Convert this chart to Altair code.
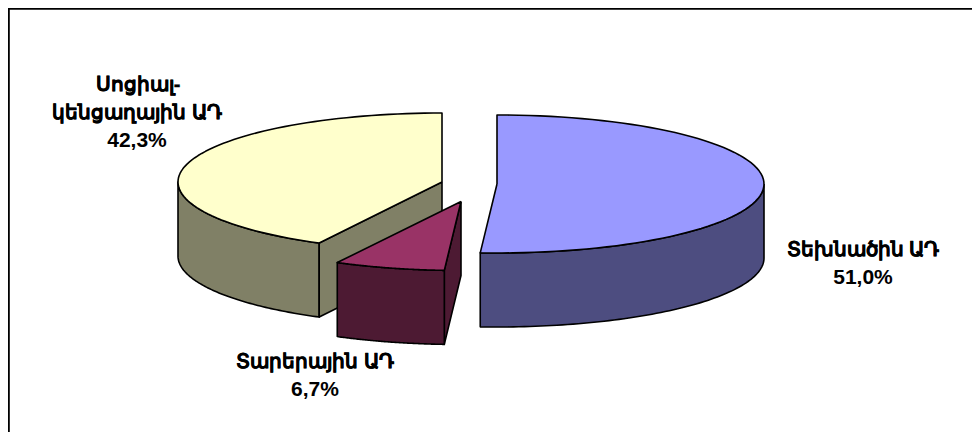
import numpy as np
import pandas as pd
import altair as alt

# Values
names = ["Տեխնածին ԱԴ", "Տարերային ԱԴ", "Սոցիալ-կենցաղային ԱԴ"]
shares = [51.0, 6.7, 42.3]

# Slice appearance and placement of the exploded slices on the picture grid
top_colors = ["#9999FF", "#993366", "#FFFFCC"]
side_colors = ["#4D4D80", "#4D1A33", "#808066"]
centers = [(497.0, 184.0), (461.0, 201.5), (442.0, 182.0)]
semi_x = [267.0, 266.0, 264.0]
semi_y = [69.0, 69.0, 69.0]
depth = 74.0

armenian_lines = [
    ("Սոցիալ-", 138, 85),
    ("կենցաղային ԱԴ", 137, 113),
    ("Տեխնածին ԱԴ", 863, 250),
    ("Տարերային ԱԴ", 315, 362),
]
number_lines = [
    ("42,3%", 137, 141),
    ("51,0%", 863, 278),
    ("6,7%", 315, 390),
]

X0, X1, Y0, Y1 = 8.0, 972.0, 8.0, 432.0
xs = alt.Scale(domain=[X0, X1], nice=False, zero=False)
ys = alt.Scale(domain=[Y1, Y0], nice=False, zero=False)


def rim(i, a0, a1, dy=0.0, n=80):
    """Points on the slice's ellipse between two angles (degrees clockwise from top)."""
    t = np.radians(np.linspace(a0, a1, n))
    cx, cy = centers[i]
    return list(zip(cx + semi_x[i] * np.sin(t), cy - semi_y[i] * np.cos(t) + dy))


def poly(points, fill):
    pts = list(points) + [points[0]]
    df = pd.DataFrame(pts, columns=["x", "y"])
    df["k"] = range(len(df))
    return (
        alt.Chart(df)
        .mark_line(fill=fill, stroke="black", strokeWidth=1.6, strokeJoin="round", clip=False)
        .encode(
            x=alt.X("x:Q", scale=xs, axis=None),
            y=alt.Y("y:Q", scale=ys, axis=None),
            order="k:Q",
        )
    )


def text_layer(rows, font, size, thicken=0.0):
    kw = dict(stroke="black", strokeWidth=thicken) if thicken else {}
    return (
        alt.Chart(pd.DataFrame(rows, columns=["t", "x", "y"]))
        .mark_text(font=font, fontWeight="bold", fontSize=size, color="#000000", align="center", baseline="middle", **kw)
        .encode(
            x=alt.X("x:Q", scale=xs, axis=None),
            y=alt.Y("y:Q", scale=ys, axis=None),
            text="t:N",
        )
    )


# Frame: only the top and left edges show in the picture
frame_top = (
    alt.Chart(pd.DataFrame({"x": [X0], "x2": [X1], "y": [Y0 + 0.9]}))
    .mark_rule(color="black", strokeWidth=1.8)
    .encode(
        x=alt.X("x:Q", scale=xs, axis=None),
        x2="x2:Q",
        y=alt.Y("y:Q", scale=ys, axis=None),
    )
)
frame_left = (
    alt.Chart(pd.DataFrame({"x": [X0 + 0.9], "y": [Y0], "y2": [Y1]}))
    .mark_rule(color="black", strokeWidth=1.8)
    .encode(
        x=alt.X("x:Q", scale=xs, axis=None),
        y=alt.Y("y:Q", scale=ys, axis=None),
        y2="y2:Q",
    )
)

# Slice angles come from the shares: first clockwise from 12 o'clock
a_blue0, a_blue1 = 0.0, shares[0] * 3.6
a_purple0, a_purple1 = a_blue1, a_blue1 + shares[1] * 3.6
a_yellow0, a_yellow1 = a_purple1, 360.0

layers = [frame_top, frame_left]

# Social slice (yellow): side wall, cut face, top
c = centers[2]
a = rim(2, a_yellow0, 270)
layers.append(poly(a + [(x, y + depth) for x, y in reversed(a)], side_colors[2]))
p = rim(2, a_yellow0, a_yellow0, n=1)[0]
layers.append(poly([c, p, (p[0], p[1] + depth), (c[0], c[1] + depth)], side_colors[2]))
layers.append(poly([c] + rim(2, a_yellow0, a_yellow1), top_colors[2]))

# Natural slice (purple): right cut face, front wall, top
c = centers[1]
p = rim(1, a_purple0, a_purple0, n=1)[0]
layers.append(poly([c, p, (p[0], p[1] + depth), (c[0], c[1] + depth)], side_colors[1]))
a = rim(1, a_purple0, a_purple1)
layers.append(poly(a + [(x, y + depth) for x, y in reversed(a)], side_colors[1]))
layers.append(poly([c] + a, top_colors[1]))

# Technogenic slice (blue): outer wall, top
c = centers[0]
a = rim(0, 90, a_blue1)
layers.append(poly(a + [(x, y + depth) for x, y in reversed(a)], side_colors[0]))
layers.append(poly([c] + rim(0, a_blue0, a_blue1), top_colors[0]))

chart = (
    alt.layer(
        *layers,
        text_layer(armenian_lines, "Liberation Sans", 20, thicken=0.35),
        text_layer(number_lines, "Liberation Sans", 21),
    )
    .properties(width=964, height=424, padding=0, autosize=alt.AutoSizeParams(type="none"), background="white")
    .configure_view(stroke=None)
)

chart.save("out.html", embed_options={"renderer": "svg", "actions": False})
